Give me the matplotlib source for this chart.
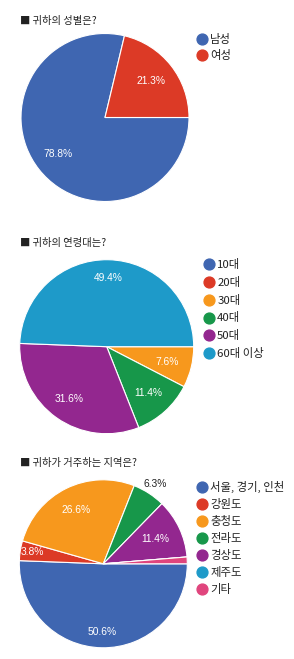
import matplotlib
matplotlib.use('Agg')
from matplotlib import pyplot as plt
from matplotlib.lines import Line2D
import numpy as np

plt.rcParams['font.family'] = ['Noto Sans CJK KR', 'DejaVu Sans']

# 데이터
gender_labels = ['남성', '여성']
gender_values = [78.8, 21.3]

age_labels = ['10대', '20대', '30대', '40대', '50대', '60대 이상']
age_values = [0, 0, 7.6, 11.4, 31.6, 49.4]

region_labels = ['서울, 경기, 인천', '강원도', '충청도', '전라도', '경상도', '제주도', '기타']
region_values = [50.6, 3.8, 26.6, 6.3, 11.4, 0, 1.3]

titles = ['■ 귀하의 성별은?', '■ 귀하의 연령대는?', '■ 귀하가 거주하는 지역은?']

blue = '#3F66B1'
red = '#DC3A26'
orange = '#F7981D'
green = '#17974A'
purple = '#93278F'
teal = '#1E9AC9'
pink = '#E0457D'

W, H = 294, 659
fig = plt.figure(figsize=(W / 100, H / 100), dpi=100)


def px_axes(cx, cy, r):
    # 픽셀 좌표(위에서부터)로 정사각형 축 생성
    return fig.add_axes([(cx - r) / W, (H - cy - r) / H, 2 * r / W, 2 * r / H])


def draw_pie(cx, cy, r, values, labels, colors, dists, title, title_y, leg_x, leg_y, spacing):
    ax = px_axes(cx, cy, r)
    wedges, texts, autotexts = ax.pie(
        values, colors=colors, startangle=0, counterclock=False,
        autopct='%1.1f%%', pctdistance=0.72,
        wedgeprops=dict(edgecolor='white', linewidth=0.8),
        textprops=dict(family='Liberation Sans', fontsize=7.4, color='white'))
    ax.set_xlim(-1, 1)
    ax.set_ylim(-1, 1)
    ax.set_aspect('equal')
    ax.axis('off')
    for w, t, v, d in zip(wedges, autotexts, values, dists):
        if d is None or v == 0:
            t.set_text('')
            continue
        mid = np.deg2rad((w.theta1 + w.theta2) / 2)
        t.set_position((d * np.cos(mid), d * np.sin(mid)))
        t.set_text(f'{v}%')
        if d > 1:
            t.set_color('#222222')

    fig.text(20 / W, 1 - title_y / H, title, fontsize=7.4, color='#222222',
             va='center', ha='left')

    handles = [Line2D([], [], marker='o', linestyle='', markersize=7.8,
                      markerfacecolor=c, markeredgecolor=c) for c in colors]
    fig.legend(handles, labels, loc='upper left',
               bbox_to_anchor=(leg_x / W, 1 - leg_y / H),
               frameon=False, fontsize=8.2, labelcolor='#222222',
               handlelength=1.0, handletextpad=0.25, borderpad=0,
               borderaxespad=0, labelspacing=spacing)
    return ax


draw_pie(105, 117.5, 84, gender_values, gender_labels, [blue, red],
         [0.71, 0.70], titles[0], 20.7, 196, 34, 0.46)

draw_pie(106.7, 346.7, 87, age_values, age_labels,
         [blue, red, orange, green, purple, teal],
         [None, None, 0.72, 0.71, 0.74, 0.79], titles[1], 243, 203, 259, 0.6)

draw_pie(103.3, 563.8, 84, region_values, region_labels,
         [blue, red, orange, green, purple, teal, pink],
         [0.81, 0.86, 0.72, 1.13, 0.69, None, None], titles[2], 463, 196, 481, 0.53)

plt.savefig('out.png', dpi=100)
